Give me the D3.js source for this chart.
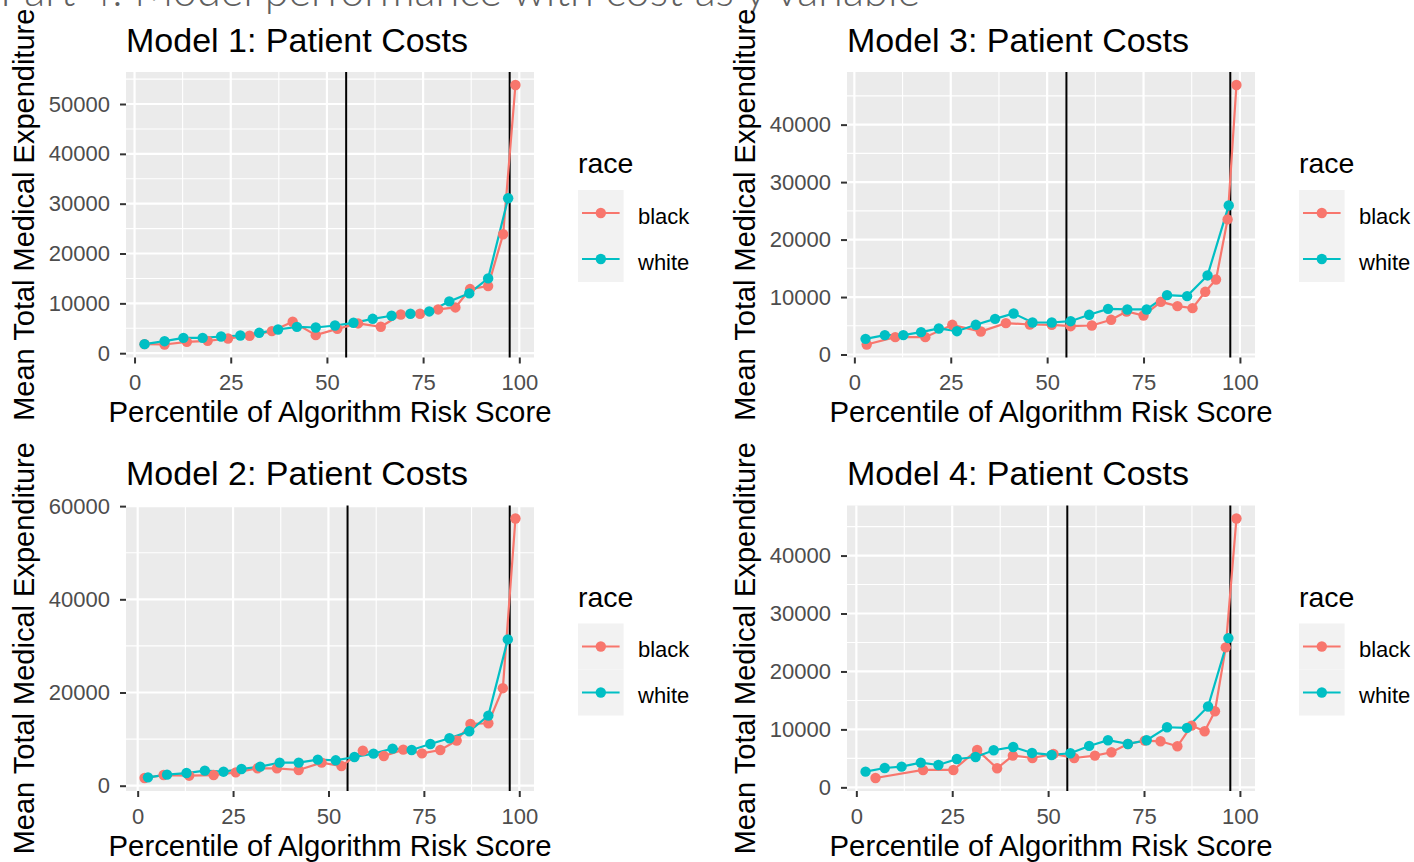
<!DOCTYPE html>
<html><head><meta charset="utf-8">
<script src="https://cdn.jsdelivr.net/npm/d3@7"></script>
<style>
body{margin:0;background:#fff;}
svg{display:block;font-family:"Liberation Sans",Arial,sans-serif;}
</style>
</head><body>
<svg id="chart" width="1414" height="862"></svg>
<script>
// ---------------- data ----------------
const pageHeading = "Part 4: Model performance with cost as y variable";
const panelTitles = ["Model 1: Patient Costs","Model 2: Patient Costs","Model 3: Patient Costs","Model 4: Patient Costs"];
const xTitle = "Percentile of Algorithm Risk Score";
const yTitle = "Mean Total Medical Expenditure";
const legendTitle = "race";
const raceLabels = ["black","white"];
const raceColors = ["#F8766D","#00BFC4"];
const thresholds = [55, 97.5];
const xTicks = [0,25,50,75,100];
const yTicksM1 = [0,10000,20000,30000,40000,50000];
const yTicksM2 = [0,20000,40000,60000];
const yTicksM3 = [0,10000,20000,30000,40000];
const yTicksM4 = [0,10000,20000,30000,40000];

// Model 1
const m1BlackPct  = [2.6,7.8,13.6,19.0,24.3,29.9,35.7,41.1,47.1,52.7,58.1,64.0,69.2,74.2,78.9,83.4,87.2,91.9,95.8,99.0];
const m1BlackCost = [1810,1740,2280,2480,2950,3490,4420,6300,3620,4890,5970,5300,7770,7910,8780,9180,12870,13470,23860,53820];
const m1WhitePct  = [2.6,7.8,12.7,17.7,22.5,27.5,32.4,37.3,42.2,47.1,52.1,56.9,61.9,66.8,71.7,76.6,81.8,87.0,91.9,97.1];
const m1WhiteCost = [1810,2410,3080,3080,3350,3550,4090,4760,5290,5160,5560,6100,6900,7510,7910,8380,10390,12000,15010,31100];
// Model 2
const m2BlackPct  = [1.8,6.8,13.5,19.9,25.7,31.4,36.5,42.2,48.2,53.4,59.0,64.5,69.6,74.5,79.3,83.6,87.2,91.9,95.7,99.0];
const m2BlackCost = [1650,2290,2150,2290,2870,3730,3730,3370,4950,4230,7530,6380,7740,6950,7670,9680,13260,13410,20930,57350];
const m2WhitePct  = [2.7,7.7,12.8,17.6,22.5,27.2,32.1,37.2,42.2,47.2,51.9,56.8,61.8,66.8,71.8,76.7,81.7,86.9,91.9,97.0];
const m2WhiteCost = [1790,2370,2720,3230,3010,3580,4090,4950,4950,5590,5450,6160,6880,7960,7670,8960,10180,11680,15050,31400];
// Model 3
const m3BlackPct  = [3.2,10.6,18.4,25.4,32.8,39.3,45.5,51.2,56.1,61.6,66.6,70.6,75.0,79.5,83.8,87.7,91.0,93.8,96.8,99.1];
const m3BlackCost = [1740,3020,3020,5170,4000,5460,5220,5170,4930,5050,6040,7490,6790,9170,8420,8070,10910,13060,23510,46900];
const m3WhitePct  = [2.9,7.9,12.7,17.3,21.9,26.6,31.5,36.5,41.3,46.2,51.2,56.1,60.9,65.8,70.8,75.8,81.1,86.3,91.6,97.1];
const m3WhiteCost = [2730,3370,3370,3890,4530,4060,5170,6210,7140,5570,5570,5800,6910,7950,7840,7840,10330,10160,13760,25940];
// Model 4
const m4BlackPct  = [5.0,17.4,25.3,31.5,36.7,40.8,45.9,51.4,56.8,62.2,66.5,70.8,75.2,79.3,83.7,87.4,90.8,93.5,96.3,99.1];
const m4BlackCost = [1610,3000,3000,6460,3290,5480,5070,5760,5070,5480,6050,7490,8070,7950,7090,10660,9680,13140,24150,46400];
const m4WhitePct  = [2.4,7.4,11.8,16.8,21.4,26.2,31.1,35.8,40.9,45.8,50.9,55.8,60.7,65.6,70.8,75.7,81.0,86.2,91.7,97.0];
const m4WhiteCost = [2710,3340,3570,4270,3860,4900,5240,6400,6970,5940,5590,5880,7150,8130,7490,8130,10370,10260,13950,25760];

// ---------------- layout ----------------
const colLeft = [126, 847];
const rowTop = [72, 505.5];
const PW = 408, PH = 285.5;

const panels = [
  {title:panelTitles[0], col:0,row:0, series:[[m1BlackPct,m1BlackCost],[m1WhitePct,m1WhiteCost]], yTicks:yTicksM1},
  {title:panelTitles[1], col:0,row:1, series:[[m2BlackPct,m2BlackCost],[m2WhitePct,m2WhiteCost]], yTicks:yTicksM2},
  {title:panelTitles[2], col:1,row:0, series:[[m3BlackPct,m3BlackCost],[m3WhitePct,m3WhiteCost]], yTicks:yTicksM3},
  {title:panelTitles[3], col:1,row:1, series:[[m4BlackPct,m4BlackCost],[m4WhitePct,m4WhiteCost]], yTicks:yTicksM4}
];

const svg = d3.select("#chart");

svg.append("text")
  .attr("x", 0).attr("y", 6)
  .attr("font-family", "Lato, 'Open Sans', sans-serif")
  .attr("font-weight", 300)
  .attr("font-size", 44)
  .attr("fill", "#606060")
  .attr("textLength", 920).attr("lengthAdjust", "spacingAndGlyphs")
  .text(pageHeading);

function expand(ext){ const r = ext[1]-ext[0]; return [ext[0]-0.05*r, ext[1]+0.05*r]; }
function minors(ticks, dom){
  const step = ticks[1]-ticks[0];
  const out = [];
  for (let i=-1;i<ticks.length;i++){ const v = ticks[0] + (i+0.5)*step; if (v>=dom[0] && v<=dom[1]) out.push(v); }
  return out;
}

panels.forEach(p => {
  const L = colLeft[p.col], T = rowTop[p.row];
  const allX = p.series.flatMap(s => s[0]).concat(thresholds);
  const allY = p.series.flatMap(s => s[1]);
  const xDom = expand(d3.extent(allX));
  const yDom = expand(d3.extent(allY));
  const x = d3.scaleLinear().domain(xDom).range([0, PW]);
  const y = d3.scaleLinear().domain(yDom).range([PH, 0]);

  const g = svg.append("g").attr("transform", `translate(${L},${T})`);
  g.append("rect").attr("width", PW).attr("height", PH).attr("fill", "#EBEBEB");

  // minor grid
  g.selectAll(".mx").data(minors(xTicks, xDom)).join("line")
    .attr("x1", d=>x(d)).attr("x2", d=>x(d)).attr("y1",0).attr("y2",PH)
    .attr("stroke","#fff").attr("stroke-width",1.1);
  g.selectAll(".my").data(minors(p.yTicks, yDom)).join("line")
    .attr("y1", d=>y(d)).attr("y2", d=>y(d)).attr("x1",0).attr("x2",PW)
    .attr("stroke","#fff").attr("stroke-width",1.1);
  // major grid
  g.selectAll(".Mx").data(xTicks).join("line")
    .attr("x1", d=>x(d)).attr("x2", d=>x(d)).attr("y1",0).attr("y2",PH)
    .attr("stroke","#fff").attr("stroke-width",2.2);
  g.selectAll(".My").data(p.yTicks).join("line")
    .attr("y1", d=>y(d)).attr("y2", d=>y(d)).attr("x1",0).attr("x2",PW)
    .attr("stroke","#fff").attr("stroke-width",2.2);

  // threshold lines
  g.selectAll(".vl").data(thresholds).join("line")
    .attr("x1", d=>x(d)).attr("x2", d=>x(d)).attr("y1",0).attr("y2",PH)
    .attr("stroke","#000").attr("stroke-width",2);

  const line = d3.line().x(d=>x(d[0])).y(d=>y(d[1]));
  p.series.forEach((s,i) => {
    const pts = s[0].map((v,j)=>[v, s[1][j]]);
    g.append("path").datum(pts).attr("d", line).attr("fill","none")
      .attr("stroke", raceColors[i]).attr("stroke-width", 2.2);
  });
  p.series.forEach((s,i) => {
    const pts = s[0].map((v,j)=>[v, s[1][j]]);
    g.append("g").selectAll("circle").data(pts).join("circle")
      .attr("cx", d=>x(d[0])).attr("cy", d=>y(d[1])).attr("r", 5.2)
      .attr("fill", raceColors[i]);
  });

  // axes
  const ax = g.append("g").attr("transform", `translate(0,${PH})`)
    .call(d3.axisBottom(x).tickValues(xTicks).tickFormat(d3.format("d")).tickSize(6).tickPadding(11));
  const ay = g.append("g")
    .call(d3.axisLeft(y).tickValues(p.yTicks).tickFormat(d3.format("d")).tickSize(6).tickPadding(10));
  [ax, ay].forEach(a => {
    a.select(".domain").remove();
    a.selectAll("line").attr("stroke","#333").attr("stroke-width",2);
    a.selectAll("text").attr("fill","#4D4D4D").attr("font-size",22)
      .attr("font-family","'Liberation Sans', Arial, sans-serif");
  });

  // titles
  g.append("text").attr("x", 0).attr("y", -20.3).attr("font-size", 34).attr("fill","#000").text(p.title);
  g.append("text").attr("x", PW/2).attr("y", PH+64.5).attr("text-anchor","middle")
    .attr("font-size", 29.3).attr("fill","#000").text(xTitle);
  g.append("text").attr("transform", `translate(-92,${PH/2}) rotate(-90)`).attr("text-anchor","middle")
    .attr("font-size", 29).attr("fill","#000").text(yTitle);

  // legend
  const lg = g.append("g").attr("transform", `translate(${PW+44},0)`);
  lg.append("text").attr("x",0).attr("y",101).attr("font-size",28.5).attr("fill","#000").text(legendTitle);
  raceLabels.forEach((lab,i) => {
    const ky = 118 + i*46;
    lg.append("rect").attr("x",0).attr("y",ky).attr("width",45.6).attr("height",46).attr("fill","#F2F2F2");
    lg.append("line").attr("x1",4).attr("x2",41.6).attr("y1",ky+23).attr("y2",ky+23)
      .attr("stroke",raceColors[i]).attr("stroke-width",2.2);
    lg.append("circle").attr("cx",22.8).attr("cy",ky+23).attr("r",5.2).attr("fill",raceColors[i]);
    lg.append("text").attr("x",60).attr("y",ky+33.5).attr("font-size",22).attr("fill","#000").text(lab);
  });
});
</script>
</body></html>
